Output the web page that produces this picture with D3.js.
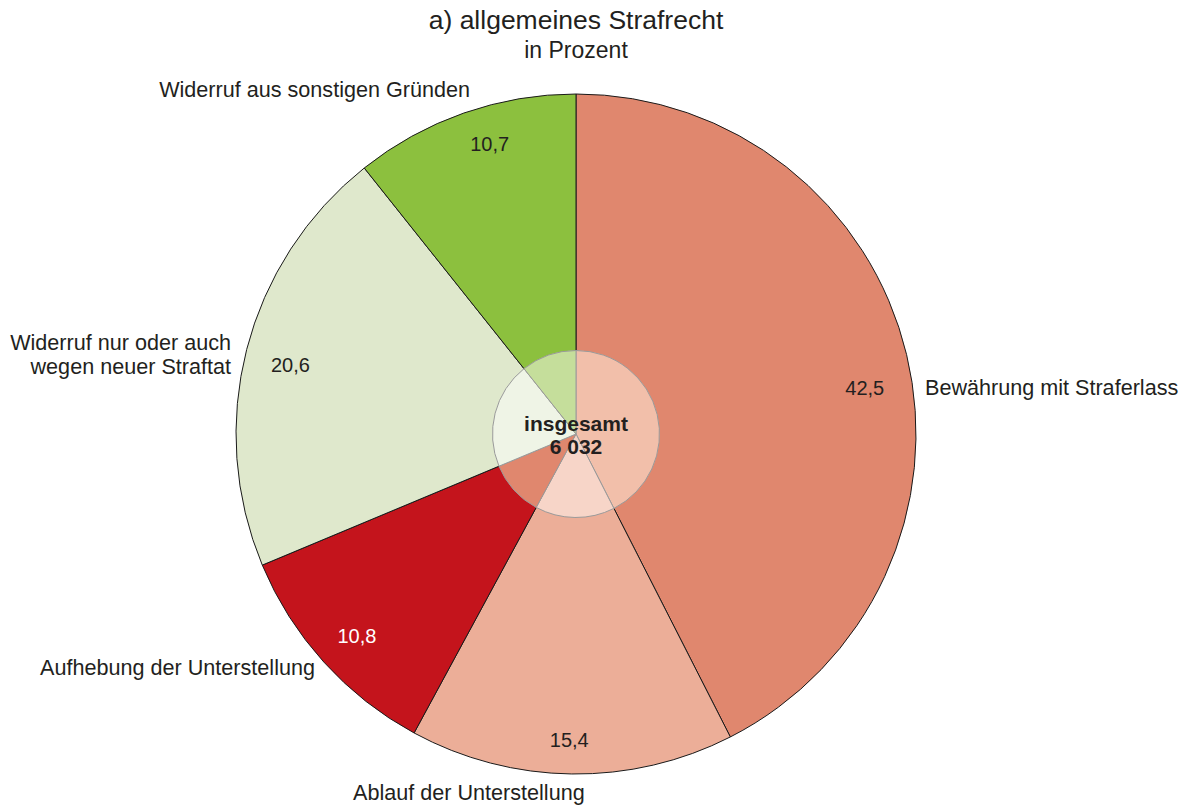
<!DOCTYPE html>
<html>
<head>
<meta charset="utf-8">
<script src="https://cdn.jsdelivr.net/npm/d3@7"></script>
<style>
  body { margin: 0; background: #fff; }
  text { font-family: "Liberation Sans", Arial, sans-serif; fill: #231f20; }
</style>
</head>
<body>
<div id="chart"></div>
<script>
// data
const categories = [
  "Bewährung mit Straferlass",
  "Ablauf der Unterstellung",
  "Aufhebung der Unterstellung",
  "Widerruf nur oder auch|wegen neuer Straftat",
  "Widerruf aus sonstigen Gründen"
];
const shares = [42.5, 15.4, 10.8, 20.6, 10.7];
const totalCount = "6 032";
const titleLines = ["a) allgemeines Strafrecht", "in Prozent"];

// styling
const fills = ["#e0876e", "#ecae98", "#c4141c", "#dfe8cc", "#8cc03e"];
const innerFills = ["#f2bfaa", "#f7d5c8", "#e0876e", "#eff4e6", "#c5de9b"];
const valueColors = ["#231f20", "#231f20", "#ffffff", "#231f20", "#231f20"];
// label placement: [x, y, anchor]
const labelPos = [
  [925, 395, "start"],
  [353, 800, "start"],
  [315, 675, "end"],
  [231, 350, "end"],
  [470, 97, "end"]
];
const valueNudge = [[-1, 24], [-3, 8], [2, 2], [3, 5], [12, -9]];

const width = 1182, height = 807;
const cx = 576, cy = 434, radius = 340, innerR = 83.5, valueR = 298;

const svg = d3.select("#chart").append("svg")
  .attr("width", width)
  .attr("height", height);

svg.append("text")
  .attr("x", cx).attr("y", 29)
  .attr("text-anchor", "middle")
  .style("font-size", "26.5px")
  .text(titleLines[0]);
svg.append("text")
  .attr("x", cx).attr("y", 58)
  .attr("text-anchor", "middle")
  .style("font-size", "23px")
  .text(titleLines[1]);

const pie = d3.pie().sort(null).value(d => d);
const arcs = pie(shares);

const outerArc = d3.arc().innerRadius(0).outerRadius(radius);
const innerArc = d3.arc().innerRadius(0).outerRadius(innerR);
const valueArc = d3.arc().innerRadius(valueR).outerRadius(valueR);

const g = svg.append("g").attr("transform", `translate(${cx},${cy})`);

g.selectAll("path.slice")
  .data(arcs)
  .join("path")
  .attr("class", "slice")
  .attr("d", outerArc)
  .attr("fill", (d, i) => fills[i])
  .attr("stroke", "#1a1a1a")
  .attr("stroke-width", 1);

g.selectAll("path.inner")
  .data(arcs)
  .join("path")
  .attr("class", "inner")
  .attr("d", innerArc)
  .attr("fill", (d, i) => innerFills[i])
  .attr("stroke", "#9a9a9a")
  .attr("stroke-width", 1);

g.selectAll("text.value")
  .data(arcs)
  .join("text")
  .attr("class", "value")
  .attr("x", (d, i) => valueArc.centroid(d)[0] + valueNudge[i][0])
  .attr("y", (d, i) => valueArc.centroid(d)[1] + valueNudge[i][1])
  .attr("dy", "0.35em")
  .attr("text-anchor", "middle")
  .style("font-size", "20px")
  .style("fill", (d, i) => valueColors[i])
  .text(d => d3.format(".1f")(d.data).replace(".", ","));

g.append("text")
  .attr("y", -3)
  .attr("text-anchor", "middle")
  .style("font-size", "21px")
  .style("font-weight", "bold")
  .text("insgesamt");
g.append("text")
  .attr("y", 20)
  .attr("text-anchor", "middle")
  .style("font-size", "21px")
  .style("font-weight", "bold")
  .text(totalCount);

categories.forEach((c, i) => {
  const [x, y, anchor] = labelPos[i];
  c.split("|").forEach((line, j) => {
    svg.append("text")
      .attr("x", x)
      .attr("y", y + j * 24)
      .attr("text-anchor", anchor)
      .style("font-size", "21.6px")
      .text(line);
  });
});
</script>
</body>
</html>
